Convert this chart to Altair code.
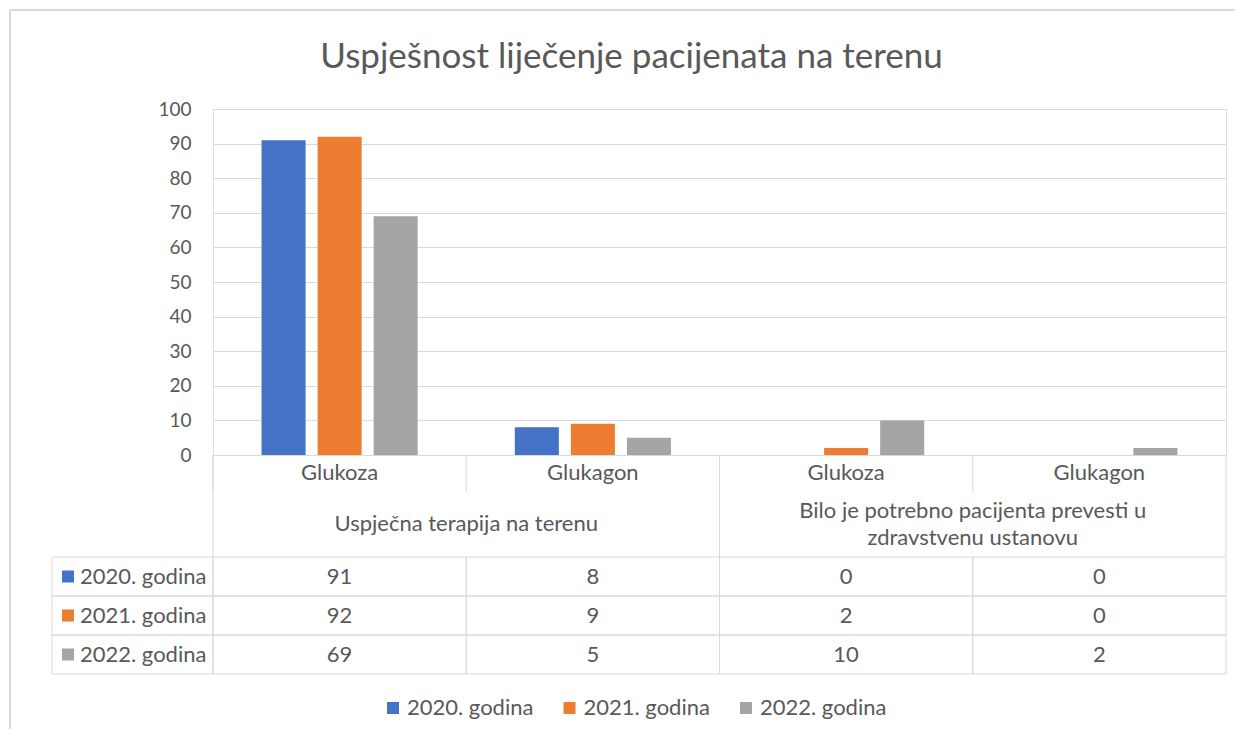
import altair as alt
import pandas as pd

chart_title = "Uspješnost liječenje pacijenata na terenu"
groups = ["Uspječna terapija na terenu",
          "Bilo je potrebno pacijenta prevesti u\nzdravstvenu ustanovu"]
subcats = ["Glukoza", "Glukagon"]
series = ["2020. godina", "2021. godina", "2022. godina"]
v2020 = [91, 8, 0, 0]
v2021 = [92, 9, 2, 0]
v2022 = [69, 5, 10, 2]
colors = ["#4472C4", "#ED7D31", "#A5A5A5"]

TXT = "#595959"
LINE = "#D9D9D9"
FONT = "Lato"
FS = 22
W, H = 1013, 346

cols = [f"{gi}-{s}" for gi in range(len(groups)) for s in subcats]
vals = {series[0]: v2020, series[1]: v2021, series[2]: v2022}

rows = []
for s in series:
    for c, v in zip(cols, vals[s]):
        rows.append({"col": c, "series": s, "value": v})
df = pd.DataFrame(rows)

cat_df = pd.DataFrame({"col": cols, "label": [s for _ in groups for s in subcats]})
grp_df = pd.DataFrame({"first": [cols[i * len(subcats)] for i in range(len(groups))],
                       "last": [cols[i * len(subcats) + len(subcats) - 1] for i in range(len(groups))],
                       "label": groups})
ser_df = pd.DataFrame({"series": series})
one = pd.DataFrame({"a": [0]})

xscale = alt.Scale(type="band", domain=cols, paddingInner=0, paddingOuter=0)
rowscale = alt.Scale(type="band", domain=series, range=[448, 565], paddingInner=0, paddingOuter=0)
cscale = alt.Scale(domain=series, range=colors)


def X(field="col", bp=None):
    if bp is None:
        return alt.X(f"{field}:N", scale=xscale, axis=None)
    return alt.X(f"{field}:N", scale=xscale, axis=None, bandPosition=bp)


rowY = alt.Y("series:N", scale=rowscale, axis=None)

bars = alt.Chart(df).mark_bar().encode(
    x=X(),
    xOffset=alt.XOffset("series:N", scale=alt.Scale(domain=series, paddingInner=0.214, paddingOuter=0.866)),
    y=alt.Y("value:Q", scale=alt.Scale(domain=[0, 100]),
            axis=alt.Axis(values=list(range(0, 101, 10)), title=None, domain=False, ticks=False,
                          labelPadding=22, labelFontSize=19, labelColor=TXT, labelFont=FONT,
                          gridColor=LINE, gridWidth=1)),
    color=alt.Color("series:N", scale=cscale,
                    legend=alt.Legend(title=None, orient="none", direction="horizontal",
                                      legendX=169, legendY=588, symbolType="square", symbolSize=144,
                                      symbolStrokeWidth=0, labelFontSize=FS, labelColor=TXT,
                                      labelFont=FONT, columnPadding=24.5, labelOffset=3, padding=0)),
)

border_top = alt.Chart(one).mark_rule(color=LINE, strokeWidth=2).encode(
    x=alt.value(-203), x2=alt.value(1022), y=alt.value(-99))
border_left = alt.Chart(one).mark_rule(color=LINE, strokeWidth=2).encode(
    x=alt.value(-203), y=alt.value(-99), y2=alt.value(620))

cells = alt.Chart(df).mark_rect(fillOpacity=0, stroke=LINE, strokeWidth=1).encode(x=X(), y=rowY)
vtext = alt.Chart(df).mark_text(fontSize=FS, color=TXT, font=FONT).encode(
    x=X(), y=rowY, text="value:Q")

hdr_cells = alt.Chart(ser_df).mark_rect(fillOpacity=0, stroke=LINE, strokeWidth=1).encode(
    x=alt.value(-161), x2=alt.value(0), y=rowY)
swatch = alt.Chart(ser_df).mark_square(size=144, opacity=1).encode(
    x=alt.value(-145), y=rowY, color=alt.Color("series:N", scale=cscale))
hdr_text = alt.Chart(ser_df).mark_text(align="left", fontSize=FS, color=TXT, font=FONT).encode(
    x=alt.value(-133), y=rowY, text="series:N")

cat_rules = alt.Chart(cat_df).mark_rule(color=LINE, strokeWidth=1).encode(
    x=X("col", 0), y=alt.value(346), y2=alt.value(383))
grp_rules = alt.Chart(grp_df).mark_rule(color=LINE, strokeWidth=1).encode(
    x=X("first", 0), y=alt.value(346), y2=alt.value(448))
end_rule = alt.Chart(grp_df.tail(1)).mark_rule(color=LINE, strokeWidth=1).encode(
    x=X("last", 1), y=alt.value(346), y2=alt.value(448))

cat_text = alt.Chart(cat_df).mark_text(fontSize=FS, color=TXT, font=FONT).encode(
    x=X(), y=alt.value(364), text="label:N")
grp_text = alt.Chart(grp_df).transform_calculate(
    shift="-(length(split(datum.label, '\\n')) - 1) * 13.5"
).mark_text(fontSize=FS, color=TXT, font=FONT, lineBreak="\n", lineHeight=27).encode(
    x=X("first", 1), y=alt.value(415), yOffset=alt.YOffset("shift:Q", scale=None), text="label:N")

chart = alt.layer(
    border_top, border_left, bars, cells, vtext, hdr_cells, swatch, hdr_text,
    cat_rules, grp_rules, end_rule, cat_text, grp_text,
).resolve_scale(y="independent").properties(
    width=W, height=H,
    autosize=alt.AutoSizeParams(type="none"),
    padding={"left": 205, "top": 101, "right": 10, "bottom": 279},
    title=alt.Title(chart_title, fontSize=35, color=TXT, font=FONT, fontWeight="normal",
                    anchor="middle", dx=-88, offset=-66),
).configure_view(stroke=None).configure(font=FONT)

chart.save("out.html", embed_options={"renderer": "svg", "actions": False})
